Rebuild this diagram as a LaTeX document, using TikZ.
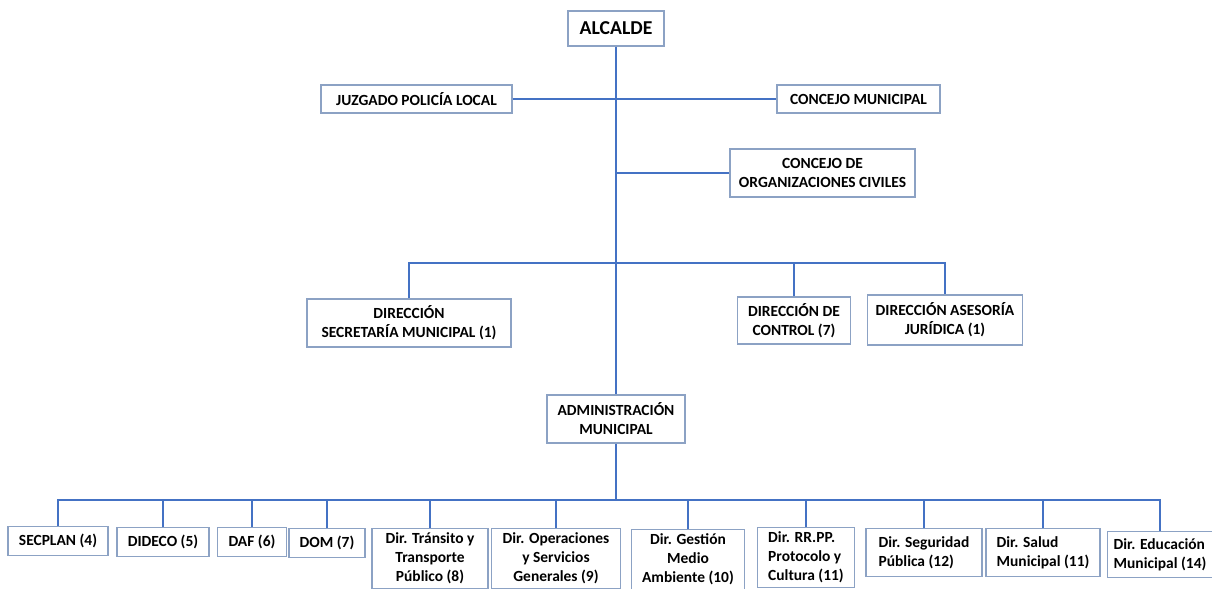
\documentclass[tikz,border=0pt]{standalone}
\usepackage{fontspec}
\setmainfont{Carlito}
\usetikzlibrary{positioning, calc}

\definecolor{linkblue}{RGB}{68,114,196}
\definecolor{boxline}{RGB}{140,162,196}

\begin{document}
\begin{tikzpicture}[
  x=0.025cm, y=-0.025cm,
  %% organisation boxes
  obox/.style={
    rectangle, draw=boxline, line width=0.9pt,
    fill=white, align=center, inner xsep=2pt, inner ysep=3pt,
    font=\fontsize{11}{13.5}\selectfont\bfseries
  },
  %% bottom row (top edges on one line)
  dbox/.style={obox, anchor=north},
  %% connectors
  conn/.style={draw=linkblue, line width=1.4pt}
]

\path[use as bounding box, fill=white] (0,0) rectangle (1212,588);

%% ================================================================
%% TOP
%% ================================================================
\node[obox, minimum width=2.4cm, minimum height=0.875cm,
      font=\fontsize{14}{16}\selectfont\bfseries] (alcalde) at (616,28.5) {ALCALDE};

\node[obox, minimum width=4.775cm, minimum height=0.7cm] (juzgado) at (416.5,99)
  {JUZGADO POLICÍA LOCAL};
\node[obox, minimum width=4.075cm, minimum height=0.7cm] (concejo) at (858.5,99)
  {CONCEJO MUNICIPAL};

\node[obox, minimum width=4.625cm, minimum height=1.2cm] (org) at (822.5,173)
  {CONCEJO DE\\ORGANIZACIONES CIVILES};

%% ================================================================
%% DIRECCIONES
%% ================================================================
\node[obox, minimum width=5.1cm, minimum height=1.2cm] (secretaria) at (409,323)
  {DIRECCIÓN\\SECRETARÍA MUNICIPAL (1)};
\node[obox, minimum width=2.825cm, minimum height=1.175cm] (control) at (794,320.5)
  {DIRECCIÓN DE\\CONTROL (7)};
\node[obox, minimum width=3.875cm, minimum height=1.25cm] (asesoria) at (945,320)
  {DIRECCIÓN ASESORÍA\\JURÍDICA (1)};

\node[obox, minimum width=3.45cm, minimum height=1.2cm] (admin) at (616,419)
  {ADMINISTRACIÓN\\MUNICIPAL};

%% ================================================================
%% BOTTOM ROW
%% ================================================================
\node[dbox, minimum width=2.5cm, minimum height=0.725cm] (secplan) at (58,526) {SECPLAN (4)};
\node[dbox, minimum width=2.3cm, minimum height=0.725cm] (dideco) at (163,527) {DIDECO (5)};
\node[dbox, minimum width=1.725cm, minimum height=0.725cm] (daf) at (252,527) {DAF (6)};
\node[dbox, minimum width=1.9cm, minimum height=0.725cm] (dom) at (327,528) {DOM (7)};
\node[dbox, minimum width=2.9cm] (transito) at (430,528)
  {Dir. Tránsito y\\Transporte\\Público (8)};
\node[dbox, minimum width=3.225cm] (operaciones) at (556,528)
  {Dir. Operaciones\\y Servicios\\Generales (9)};
\node[dbox, minimum width=2.825cm] (gestion) at (688,529)
  {Dir. Gestión\\Medio\\Ambiente (10)};
\node[dbox, minimum width=2.425cm, align=left] (rrpp) at (806,527)
  {Dir. RR.PP.\\Protocolo y\\Cultura (11)};
\node[dbox, minimum width=2.9cm, minimum height=1.2cm, align=left] (seguridad) at (924,528)
  {Dir. Seguridad\\Pública (12)};
\node[dbox, minimum width=2.85cm, minimum height=1.2cm, align=left] (salud) at (1043,528)
  {Dir. Salud\\Municipal (11)};
\node[dbox, minimum width=2.625cm, minimum height=1.15cm, align=left] (educacion) at (1160,531)
  {Dir. Educación\\Municipal (14)};

%% ================================================================
%% CONNECTORS
%% ================================================================
\coordinate (busA) at (616,263);
\coordinate (busB) at (616,500);

\draw[conn] (alcalde.south) -- (admin.north);
\draw[conn] (juzgado.east) -- (concejo.west);
\draw[conn] (alcalde.south |- org.west) -- (org.west);

%% direcciones
\draw[conn] (secretaria.north) |- (asesoria.north |- busA) -- (asesoria.north);
\draw[conn] (control.north) -- (control.north |- busA);

%% bottom bus
\draw[conn] (admin.south) -- (busB);
\draw[conn] (secplan.north) |- (educacion.north |- busB) -- (educacion.north);
\foreach \n in {dideco, daf, dom, transito, operaciones, gestion, rrpp, seguridad, salud}
  \draw[conn] (\n.north) -- (\n.north |- busB);

\end{tikzpicture}
\end{document}
